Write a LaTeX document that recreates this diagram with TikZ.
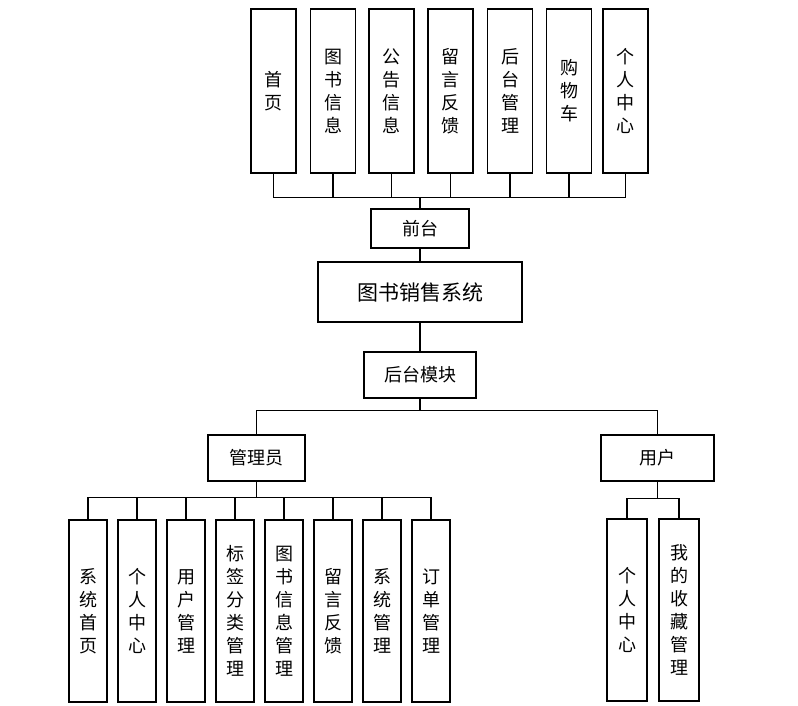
\documentclass[tikz,border=0pt]{standalone}
\usepackage{fontspec}
\newfontfamily\cjk{Noto Sans CJK SC}
\begin{document}
\begin{tikzpicture}[x=1pt,y=-1pt,
        box/.style={draw,line width=1.4pt,inner sep=0pt,align=center,
            font=\cjk\fontsize{18}{23}\selectfont},
        topbox/.style={box,minimum width=45pt,minimum height=164pt},
        subbox/.style={box,minimum width=38pt,minimum height=182pt},
        link/.style={line width=1.4pt}]
    \useasboundingbox (0,0) rectangle (798,706);

    % front pages
    \node[topbox] (home) at (273.5,91) {首\\页};
    \node[topbox] (bookinfo) at (333,91) {图\\书\\信\\息};
    \node[topbox] (notice) at (391.5,91) {公\\告\\信\\息};
    \node[topbox] (message) at (450.5,91) {留\\言\\反\\馈};
    \node[topbox] (backend) at (510,91) {后\\台\\管\\理};
    \node[topbox] (cart) at (569,91) {购\\物\\车};
    \node[topbox] (center) at (625.5,91) {个\\人\\中\\心};

    \node[box,minimum width=98pt,minimum height=39pt] (front) at (420,228.5) {前台};
    \node[box,minimum width=204pt,minimum height=60pt,
        font=\cjk\fontsize{21}{23}\selectfont] (sys) at (420,292) {图书销售系统};
    \node[box,minimum width=112pt,minimum height=46pt] (back) at (420,375) {后台模块};

    \node[box,minimum width=97pt,minimum height=46pt] (admin) at (256.5,458) {管理员};
    \node[box,minimum width=113pt,minimum height=46pt] (user) at (657.5,458) {用户};

    % admin pages
    \node[subbox] (a1) at (88,611) {系\\统\\首\\页};
    \node[subbox] (a2) at (137,611) {个\\人\\中\\心};
    \node[subbox] (a3) at (186,611) {用\\户\\管\\理};
    \node[subbox] (a4) at (235,611) {标\\签\\分\\类\\管\\理};
    \node[subbox] (a5) at (284,611) {图\\书\\信\\息\\管\\理};
    \node[subbox] (a6) at (333,611) {留\\言\\反\\馈};
    \node[subbox] (a7) at (382,611) {系\\统\\管\\理};
    \node[subbox] (a8) at (431,611) {订\\单\\管\\理};

    % user pages
    \node[subbox,minimum width=40pt] (u1) at (627,610) {个\\人\\中\\心};
    \node[subbox,minimum width=40pt] (u2) at (679,610) {我\\的\\收\\藏\\管\\理};

    % links
    \draw[link] (front.north) -- ++(0,-11) -| (home.south);
    \draw[link] (front.north) -- ++(0,-11) -| (bookinfo.south);
    \draw[link] (front.north) -- ++(0,-11) -| (notice.south);
    \draw[link] (front.north) -- ++(0,-11) -| (message.south);
    \draw[link] (front.north) -- ++(0,-11) -| (backend.south);
    \draw[link] (front.north) -- ++(0,-11) -| (cart.south);
    \draw[link] (front.north) -- ++(0,-11) -| (center.south);
    \draw[link] (front) -- (sys);
    \draw[link] (sys) -- (back);
    \draw[link] (back.south) -- ++(0,12) -| (admin.north);
    \draw[link] (back.south) -- ++(0,12) -| (user.north);
    \draw[link] (admin.south) -- ++(0,16) -| (a1.north);
    \draw[link] (admin.south) -- ++(0,16) -| (a2.north);
    \draw[link] (admin.south) -- ++(0,16) -| (a3.north);
    \draw[link] (admin.south) -- ++(0,16) -| (a4.north);
    \draw[link] (admin.south) -- ++(0,16) -| (a5.north);
    \draw[link] (admin.south) -- ++(0,16) -| (a6.north);
    \draw[link] (admin.south) -- ++(0,16) -| (a7.north);
    \draw[link] (admin.south) -- ++(0,16) -| (a8.north);
    \draw[link] (user.south) -- ++(0,17) -| (u1.north);
    \draw[link] (user.south) -- ++(0,17) -| (u2.north);
\end{tikzpicture}
\end{document}
